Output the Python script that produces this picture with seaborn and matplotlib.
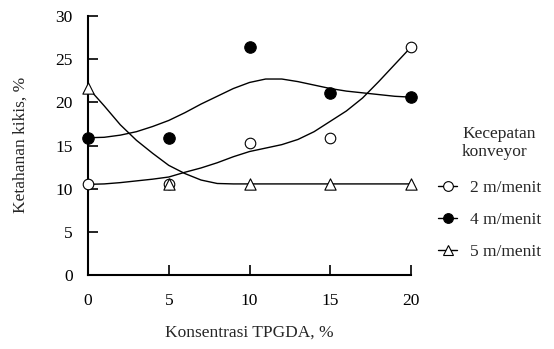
import numpy as np
import pandas as pd
import matplotlib
matplotlib.use("Agg")
import matplotlib.pyplot as plt
from matplotlib.lines import Line2D
import seaborn as sns

# ---- data -------------------------------------------------------------
konsentrasi = [0, 5, 10, 15, 20]
series_labels = ["2 m/menit", "4 m/menit", "5 m/menit"]
v2 = [10.5, 10.5, 15.3, 15.9, 26.4]
v4 = [15.9, 15.9, 26.4, 21.1, 20.6]
v5 = [21.7, 10.5, 10.5, 10.5, 10.5]

# trend curves at every unit of x
curve_x = list(range(0, 21))
c2 = [10.5, 10.55, 10.7, 10.9, 11.1, 11.35, 11.9, 12.4, 13.0, 13.7, 14.3,
      14.7, 15.1, 15.7, 16.6, 17.8, 19.0, 20.5, 22.4, 24.4, 26.4]
c4 = [15.9, 15.95, 16.2, 16.6, 17.2, 17.9, 18.8, 19.8, 20.7, 21.6, 22.3,
      22.7, 22.7, 22.4, 22.0, 21.6, 21.3, 21.1, 20.9, 20.7, 20.6]
c5 = [21.7, 19.6, 17.4, 15.6, 14.1, 12.7, 11.75, 11.0, 10.6, 10.55, 10.55,
      10.55, 10.55, 10.55, 10.55, 10.55, 10.55, 10.55, 10.55, 10.55, 10.55]

xticks = [0, 5, 10, 15, 20]
yticks = [0, 5, 10, 15, 20, 25, 30]

# ---- style ------------------------------------------------------------
sns.set_style("ticks")
plt.rcParams["font.family"] = ["Liberation Serif", "DejaVu Serif"]
FS = 12.5

fig = plt.figure(figsize=(5.54, 3.49), dpi=100)
ax = fig.add_axes([88/554, 1-275/349, (411-88)/554, (275-16)/349])

styles = [
    dict(marker="o", facecolor="white", size=58),
    dict(marker="o", facecolor="black", size=68),
    dict(marker="^", facecolor="white", size=66),
]

for cy in (c2, c4, c5):
    dfc = pd.DataFrame({"x": curve_x, "y": cy})
    sns.lineplot(data=dfc, x="x", y="y", ax=ax, color="black", linewidth=1.0,
                 legend=False, zorder=2)

for vals, st in zip((v2, v4, v5), styles):
    dfp = pd.DataFrame({"x": konsentrasi, "y": vals})
    sns.scatterplot(data=dfp, x="x", y="y", ax=ax, marker=st["marker"],
                    s=st["size"], facecolor=st["facecolor"], edgecolor="black",
                    linewidth=0.8, legend=False, zorder=4, clip_on=False)

ax.set_xlim(0, 20)
ax.set_ylim(0, 30)
ax.set_xticks(xticks)
ax.set_yticks(yticks)
ax.tick_params(direction="in", length=7.5, width=1.2, colors="black",
               labelsize=FS)
ax.tick_params(axis="y", pad=11)
ax.tick_params(axis="x", pad=13)
for side in ("top", "right"):
    ax.spines[side].set_visible(False)
for side in ("left", "bottom"):
    ax.spines[side].set_linewidth(1.5)
    ax.spines[side].set_color("black")

ax.set_xlabel("")
ax.set_ylabel("")
fig.text(249/554, 1-333/349, "Konsentrasi TPGDA, %", ha="center", va="center",
         fontsize=FS)
fig.text(21/554, 1-145/349, "Ketahanan kikis, %", ha="center", va="center",
         rotation=90, fontsize=FS)

# legend
handles = []
for lab, st in zip(series_labels, styles):
    handles.append(Line2D([0], [0], color="black", linewidth=1.0,
                          marker=st["marker"], markersize=7,
                          markerfacecolor=st["facecolor"],
                          markeredgecolor="black", markeredgewidth=0.8,
                          label=lab))
fig.legend(handles=handles, loc="upper left",
           bbox_to_anchor=(438/554, 1-180/349), frameon=False, fontsize=FS,
           handlelength=1.1, handletextpad=0.75, labelspacing=0.9,
           borderpad=0, borderaxespad=0)
fig.text(462/554, 1-143/349, "Kecepatan\nkonveyor", ha="left", va="center",
         fontsize=FS, linespacing=1.15)

fig.savefig("out.png", dpi=100, facecolor="white")
